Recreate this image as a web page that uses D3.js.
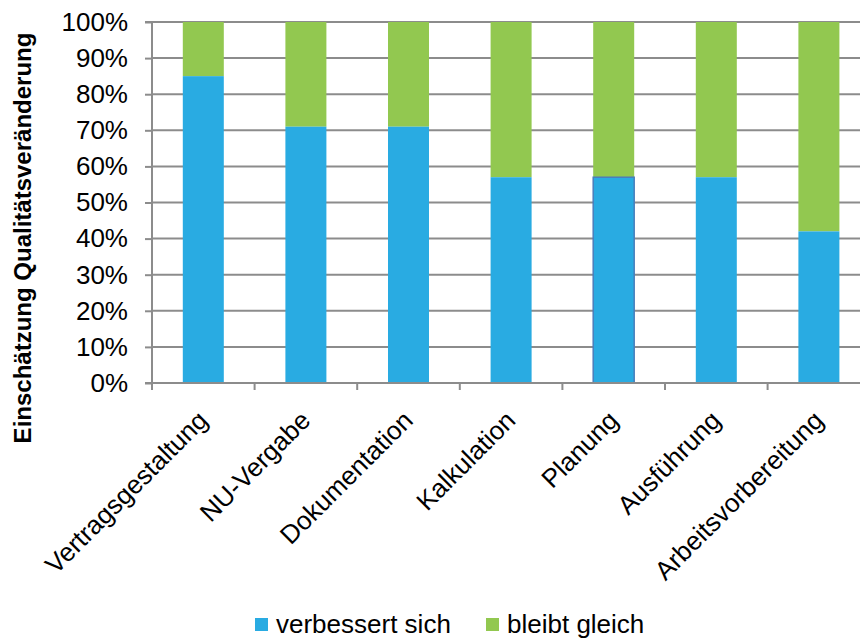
<!DOCTYPE html>
<html><head><meta charset="utf-8">
<script src="https://cdn.jsdelivr.net/npm/d3@7"></script>
<style>body{margin:0;background:#fff}svg{display:block;font-family:"Liberation Sans",Arial,sans-serif}</style>
</head><body>
<script>
const categories = ["Vertragsgestaltung","NU-Vergabe","Dokumentation","Kalkulation","Planung","Ausführung","Arbeitsvorbereitung"];
const verbessert = [85,71,71,57,57,57,42];
const bleibt = [15,29,29,43,43,43,58];
const seriesNames = ["verbessert sich","bleibt gleich"];
const seriesColors = ["#29abe2","#92c850"];
const yTicks = [0,10,20,30,40,50,60,70,80,90,100];

const W=860,H=639;
const svg=d3.select("body").append("svg").attr("width",W).attr("height",H);
const x0=152, bandW=102.6, yTop=22, yBot=383;
const x=d3.scaleBand().domain(categories).range([x0,x0+bandW*categories.length]).paddingInner(0).paddingOuter(0);
const y=d3.scaleLinear().domain([0,100]).range([yBot,yTop]);
const gray="#8c8c8c";

// gridlines
svg.append("g").selectAll("line").data(yTicks.filter(d=>d>0)).join("line")
  .attr("x1",x0).attr("x2",W).attr("y1",d=>y(d)).attr("y2",d=>y(d))
  .attr("stroke",gray).attr("stroke-width",2);

// y axis
const yAxis=svg.append("g").attr("transform",`translate(${x0},0)`)
  .call(d3.axisLeft(y).tickValues(yTicks).tickFormat(d=>d+"%").tickSize(7).tickPadding(17));
yAxis.select(".domain").attr("stroke",gray).attr("stroke-width",2).attr("d",`M-7,${yTop}H0V${yBot}H-7`);
yAxis.selectAll(".tick line").attr("stroke",gray).attr("stroke-width",2);
yAxis.selectAll("text").attr("font-size",26).attr("fill","#000").attr("font-family","'Liberation Sans',Arial,sans-serif");

// bars
const bw=41;
const g=svg.append("g");
categories.forEach((c,i)=>{
  const cx=x(c)+x.bandwidth()/2;
  g.append("rect").attr("x",cx-bw/2).attr("width",bw)
    .attr("y",y(verbessert[i]+bleibt[i])).attr("height",y(verbessert[i])-y(verbessert[i]+bleibt[i]))
    .attr("fill",seriesColors[1]);
  const r=g.append("rect").attr("x",cx-bw/2).attr("width",bw)
    .attr("y",y(verbessert[i])).attr("height",y(0)-y(verbessert[i]))
    .attr("fill",seriesColors[0]);
  if(c==="Planung") r.attr("stroke","#4a7ebb").attr("stroke-width",1.5);
});

// x axis
const xAxis=svg.append("g").attr("transform",`translate(0,${yBot})`);
xAxis.append("line").attr("x1",x0).attr("x2",W).attr("stroke",gray).attr("stroke-width",2);
xAxis.selectAll("line.t").data(d3.range(categories.length+1)).join("line").attr("class","t")
  .attr("x1",i=>x0+i*bandW).attr("x2",i=>x0+i*bandW).attr("y1",0).attr("y2",7)
  .attr("stroke",gray).attr("stroke-width",2);
xAxis.selectAll("text").data(categories).join("text")
  .attr("transform",c=>`translate(${x(c)+x.bandwidth()/2+6},${39}) rotate(-45)`)
  .attr("text-anchor","end").attr("font-size",26).attr("fill","#000").text(c=>c);

// y title
svg.append("text").attr("transform",`translate(31,238) rotate(-90)`)
  .attr("text-anchor","middle").attr("font-size",24).attr("font-weight","bold").text("Einschätzung Qualitätsveränderung");

// legend
const legX=[255,486];
seriesNames.forEach((s,i)=>{
  svg.append("rect").attr("x",legX[i]).attr("y",618).attr("width",13).attr("height",13).attr("fill",seriesColors[i]);
  svg.append("text").attr("x",legX[i]+21).attr("y",633).attr("font-size",26).text(s);
});
</script>
</body></html>
